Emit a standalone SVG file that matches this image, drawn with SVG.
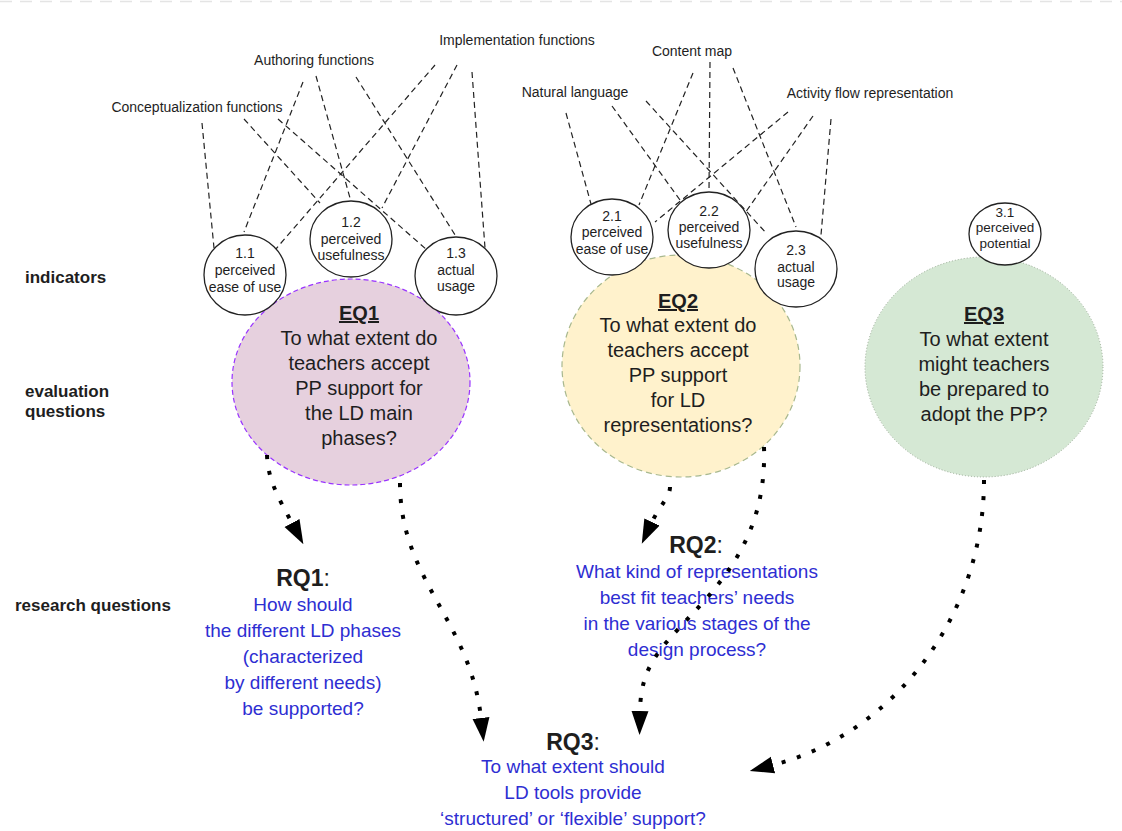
<svg xmlns="http://www.w3.org/2000/svg" width="1122" height="831" viewBox="0 0 1122 831">
<defs>
<style>
text{font-family:"Liberation Sans",Arial,sans-serif;fill:#1e1e1e}
.side{font-size:17px;font-weight:bold}
.top{font-size:14px;text-anchor:middle}
.ind{font-size:14px;text-anchor:middle}
.ind3{font-size:13.5px;text-anchor:middle}
.eq{font-size:20px;text-anchor:middle}
.eqh{font-weight:bold;text-decoration:underline}
.rq{font-size:23px;text-anchor:middle}
.rqb{font-size:19px;text-anchor:middle;fill:#2e2ed2}
.icirc{fill:#fff;stroke:#222;stroke-width:1.3}
.dash{stroke:#222;stroke-width:1.2;stroke-dasharray:6 4;fill:none}
.dot{stroke:#000;stroke-width:4;stroke-dasharray:4 12;fill:none;marker-end:url(#ah)}
</style>
<marker id="ah" markerUnits="userSpaceOnUse" viewBox="0 -9 24 18" markerWidth="24" markerHeight="18" refX="0" refY="0" orient="auto">
<path d="M0,-8.5 L24,0 L0,8.5 Z" fill="#000"/>
</marker>
</defs>
<rect width="1122" height="831" fill="#fff"/>
<line x1="0" y1="1.5" x2="1122" y2="1.5" stroke="#e4e4e4" stroke-width="1.5" stroke-dasharray="12 8"/>

<g id="row-labels">
<text class="side" x="25" y="283">indicators</text>
<text class="side" x="25" y="397">evaluation</text>
<text class="side" x="25" y="417">questions</text>
<text class="side" x="15" y="611">research questions</text>
</g>

<g id="top-labels">
<text class="top" x="517" y="45">Implementation functions</text>
<text class="top" x="314" y="65">Authoring functions</text>
<text class="top" x="197" y="112">Conceptualization functions</text>
<text class="top" x="692" y="56">Content map</text>
<text class="top" x="575" y="97">Natural language</text>
<text class="top" x="870" y="98">Activity flow representation</text>
</g>

<g id="dashed-connectors">
<line class="dash" x1="202" y1="123" x2="214" y2="248"/>
<line class="dash" x1="244" y1="119" x2="320" y2="203"/>
<line class="dash" x1="278" y1="119" x2="427" y2="250"/>
<line class="dash" x1="303" y1="82" x2="244" y2="232"/>
<line class="dash" x1="316" y1="76" x2="350" y2="198"/>
<line class="dash" x1="356" y1="77" x2="457" y2="238"/>
<line class="dash" x1="435" y1="65" x2="275" y2="250"/>
<line class="dash" x1="457" y1="65" x2="382" y2="208"/>
<line class="dash" x1="472" y1="72" x2="485" y2="248"/>
<line class="dash" x1="566" y1="113" x2="591" y2="204"/>
<line class="dash" x1="612" y1="106" x2="680" y2="200"/>
<line class="dash" x1="646" y1="101" x2="767" y2="234"/>
<line class="dash" x1="693" y1="73" x2="639" y2="205"/>
<line class="dash" x1="710" y1="62" x2="709" y2="192"/>
<line class="dash" x1="733" y1="68" x2="796" y2="227"/>
<line class="dash" x1="788" y1="112" x2="655" y2="222"/>
<line class="dash" x1="813" y1="116" x2="745" y2="213"/>
<line class="dash" x1="831" y1="119" x2="821" y2="235"/>
</g>

<g id="EQ1">
<ellipse cx="351" cy="382" rx="119" ry="103" fill="#e6d0de" stroke="#9933ff" stroke-width="1.2" stroke-dasharray="5 3"/>
<text class="eq" x="359"><tspan class="eqh" x="359" y="320">EQ1</tspan><tspan x="359" y="345">To what extent do</tspan><tspan x="359" y="370">teachers accept</tspan><tspan x="359" y="395">PP support for</tspan><tspan x="359" y="420">the LD main</tspan><tspan x="359" y="445">phases?</tspan></text>
</g>

<g id="EQ2">
<ellipse cx="681" cy="366" rx="119" ry="111" fill="#fff2cc" stroke="#a8b88e" stroke-width="1.2" stroke-dasharray="6 4"/>
<text class="eq" x="678"><tspan class="eqh" x="678" y="308">EQ2</tspan><tspan x="678" y="332">To what extent do</tspan><tspan x="678" y="357">teachers accept</tspan><tspan x="678" y="382">PP support</tspan><tspan x="678" y="407">for LD</tspan><tspan x="678" y="432">representations?</tspan></text>
</g>

<g id="EQ3">
<ellipse cx="984" cy="367" rx="119" ry="110" fill="#d5e8d4" stroke="#9aab96" stroke-width="1" stroke-dasharray="1 2"/>
<text class="eq" x="984"><tspan class="eqh" x="984" y="321">EQ3</tspan><tspan x="984" y="346">To what extent</tspan><tspan x="984" y="371">might teachers</tspan><tspan x="984" y="396">be prepared to</tspan><tspan x="984" y="421">adopt the PP?</tspan></text>
</g>

<g id="I1-1">
<ellipse class="icirc" cx="245" cy="275" rx="41" ry="40"/>
<text class="ind"><tspan x="245" y="258">1.1</tspan><tspan x="245" y="275">perceived</tspan><tspan x="245" y="292">ease of use</tspan></text>
</g>
<g id="I1-2">
<ellipse class="icirc" cx="351" cy="239" rx="41" ry="38"/>
<text class="ind"><tspan x="351" y="227">1.2</tspan><tspan x="351" y="244">perceived</tspan><tspan x="351" y="260">usefulness</tspan></text>
</g>
<g id="I1-3">
<ellipse class="icirc" cx="456" cy="276" rx="41" ry="39"/>
<text class="ind"><tspan x="456" y="258">1.3</tspan><tspan x="456" y="275">actual</tspan><tspan x="456" y="291">usage</tspan></text>
</g>
<g id="I2-1">
<ellipse class="icirc" cx="612" cy="237" rx="41" ry="38"/>
<text class="ind"><tspan x="612" y="221">2.1</tspan><tspan x="612" y="237">perceived</tspan><tspan x="612" y="254">ease of use</tspan></text>
</g>
<g id="I2-2">
<ellipse class="icirc" cx="709" cy="230" rx="41" ry="38"/>
<text class="ind"><tspan x="709" y="216">2.2</tspan><tspan x="709" y="232">perceived</tspan><tspan x="709" y="248">usefulness</tspan></text>
</g>
<g id="I2-3">
<ellipse class="icirc" cx="796" cy="269" rx="41" ry="38"/>
<text class="ind"><tspan x="796" y="255">2.3</tspan><tspan x="796" y="272">actual</tspan><tspan x="796" y="287">usage</tspan></text>
</g>
<g id="I3-1">
<ellipse class="icirc" cx="1005" cy="234" rx="36" ry="31"/>
<text class="ind3"><tspan x="1005" y="217">3.1</tspan><tspan x="1005" y="232">perceived</tspan><tspan x="1005" y="248">potential</tspan></text>
</g>

<g id="RQ1">
<text class="rq" x="303" y="586"><tspan font-weight="bold">RQ1</tspan>:</text>
<text class="rqb"><tspan x="303" y="611">How should</tspan><tspan x="303" y="637">the different LD phases</tspan><tspan x="303" y="663">(characterized</tspan><tspan x="303" y="689">by different needs)</tspan><tspan x="303" y="715">be supported?</tspan></text>
</g>
<g id="RQ2">
<text class="rq" x="696" y="553"><tspan font-weight="bold">RQ2</tspan>:</text>
<text class="rqb"><tspan x="697" y="578">What kind of representations</tspan><tspan x="697" y="604">best fit teachers’ needs</tspan><tspan x="697" y="630">in the various stages of the</tspan><tspan x="697" y="656">design process?</tspan></text>
</g>
<g id="RQ3">
<text class="rq" x="573" y="750"><tspan font-weight="bold">RQ3</tspan>:</text>
<text class="rqb"><tspan x="573" y="773">To what extent should</tspan><tspan x="573" y="799">LD tools provide</tspan><tspan x="573" y="825">‘structured’ or ‘flexible’ support?</tspan></text>
</g>

<g id="dotted-connectors">
<path class="dot" d="M267,455 C268,480 278,497 292,523"/>
<path class="dot" d="M400,483 C400,580 470,620 481,718"/>
<path class="dot" d="M670,487 C670,497 660,505 652,522"/>
<path class="dot" d="M764,447 C766,510 745,555 705,600 S641,660 640,711"/>
<path class="dot" d="M984,480 C984,620 890,735 773,765"/>
</g>
</svg>
